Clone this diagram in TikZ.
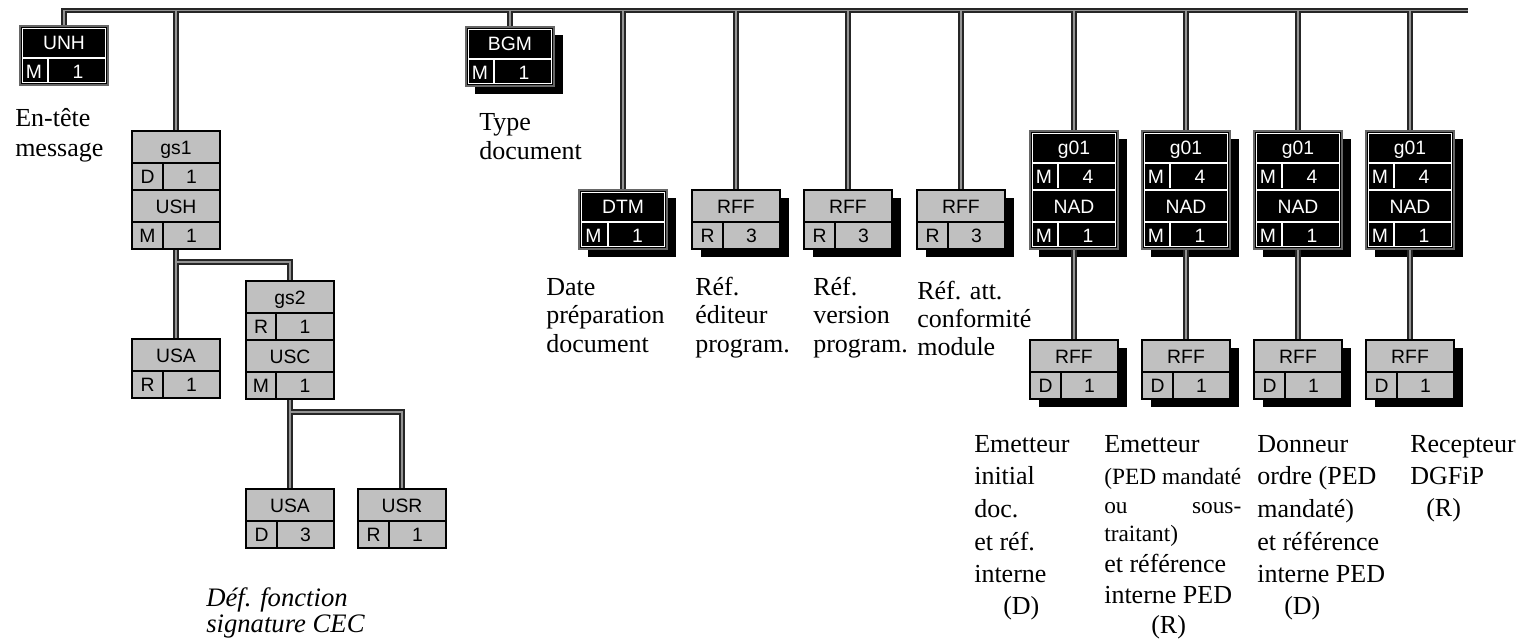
\documentclass[tikz,border=0pt]{standalone}
\usepackage{fontspec}
\setmainfont{Liberation Serif}
\newfontfamily\segfont{Liberation Sans}
\pgfdeclarelayer{bg}
\pgfsetlayers{bg,main}
\definecolor{segfill}{HTML}{C0C0C0}
\definecolor{wiredark}{HTML}{262626}
\definecolor{wirelight}{HTML}{949494}
\tikzset{
  wireout/.style={draw=wiredark, line width=4.1pt, line cap=butt, line join=miter},
  wirein/.style={draw=wirelight, line width=1.1pt, line cap=butt, line join=miter},
  segbox/.style={rectangle, inner sep=0pt, outer sep=0pt, minimum width=66pt, anchor=north west},
  framegry/.style={draw=black, fill=segfill, line width=0.9pt},
  frameblk/.style={draw=black!60, fill=black, line width=0.9pt},
  innergry/.style={draw=none},
  innerblk/.style={draw=white, line width=0.8pt},
  sepgry/.style={draw=black, line width=0.9pt},
  sepblk/.style={draw=white, line width=0.8pt},
  txtgry/.style={anchor=base, inner sep=0pt, text=black, font=\segfont\fontsize{14.5}{16}\selectfont},
  txtblk/.style={txtgry, text=white},
  segshade/.style={fill=black},
  noshade/.style={},
  captxt/.style={anchor=base west, inner sep=0pt, font=\fontsize{19.5}{22}\selectfont},
}
\def\insetgry{0}
\def\insetblk{2.5}
% #1 name, #2 kind, #3 x, #4 y, #5 height, #6 shade style
\newcommand\segframe[6]{%
  \begin{pgfonlayer}{bg}
    \path[#6] ({#3+9},{#4+8}) rectangle ++(88,#5);
  \end{pgfonlayer}
  \node[segbox, frame#2, minimum height={#5*0.75pt}] (#1) at (#3,#4) {};
  \path[inner#2] ({#3+2.5},{#4+2.5}) rectangle ({#3+85.5},{#4+#5-2.5});
}
% #1 name, #2 kind, #3 x, #4 y, #5 label, #6 status, #7 rep, #8 cell width
\newcommand\segpair[8]{%
  \edef\segins{\csname inset#2\endcsname}%
  \node[txt#2] (#1-l) at ({#3+44},{#4+23}) {#5};
  \draw[sep#2] ({#3+\segins},{#4+32}) -- ({#3+88-\segins},{#4+32});
  \draw[sep#2] ({#3+#8},{#4+32}) -- ({#3+#8},{#4+59-\segins});
  \node[txt#2] (#1-s) at ({#3+#8/2},{#4+52.5}) {#6};
  \node[txt#2] (#1-r) at ({#3+44+#8/2},{#4+52.5}) {#7};
}
% #1 kind, #2 x, #3 y
\newcommand\segmid[3]{%
  \edef\segins{\csname inset#1\endcsname}%
  \draw[sep#1] ({#2+\segins},{#3}) -- ({#2+88-\segins},{#3});
}
\newcommand\capl[1]{\hbox{\smash{#1}}}
\newcommand\segwires[1]{%
  \draw[#1] (unh.north) |- (busR);
  \foreach \n in {gs1,bgm,dtm,rffa,rffb,rffc,ga,gb,gc,gd}{\draw[#1] (\n.north |- busR) -- (\n.north);}
  \draw[#1] (gs1.south) -- (usa.north);
  \draw[#1] (gs1.south |- jA) -| (gs2.north);
  \draw[#1] (gs2.south) -- (usab.north);
  \draw[#1] (gs2.south |- jB) -| (usr.north);
  \foreach \a/\b in {ga/ra,gb/rb,gc/rc,gd/rd}{\draw[#1] (\a.south) -- (\b.north);}
}
\begin{document}
\begin{tikzpicture}[x=0.75pt,y=-0.75pt]
\useasboundingbox (0,0) rectangle (1526,640);
\begin{pgfonlayer}{bg}
  \fill[white] (0,0) rectangle (1526,640);
\end{pgfonlayer}
\coordinate (busR) at (1468,10.5);
\coordinate (jA) at (0,262);
\coordinate (jB) at (0,412);

% top-level segments
\segframe{unh}{blk}{20}{26}{59}{noshade}
\segpair{unh}{blk}{20}{26}{UNH}{M}{1}{28}
\segframe{bgm}{blk}{466}{27}{59}{segshade}
\segpair{bgm}{blk}{466}{27}{BGM}{M}{1}{28}

% signature group
\segframe{gs1}{gry}{132}{131}{118}{noshade}
\segpair{gs1a}{gry}{132}{131}{gs1}{D}{1}{31}
\segmid{gry}{132}{190}
\segpair{gs1b}{gry}{132}{190}{USH}{M}{1}{31}
\segframe{usa}{gry}{132}{339}{59}{noshade}
\segpair{usa}{gry}{132}{339}{USA}{R}{1}{31}
\segframe{gs2}{gry}{246}{281}{118}{noshade}
\segpair{gs2a}{gry}{246}{281}{gs2}{R}{1}{30}
\segmid{gry}{246}{340}
\segpair{gs2b}{gry}{246}{340}{USC}{M}{1}{30}
\segframe{usab}{gry}{246}{489}{59}{noshade}
\segpair{usab}{gry}{246}{489}{USA}{D}{3}{31}
\segframe{usr}{gry}{358}{489}{59}{noshade}
\segpair{usr}{gry}{358}{489}{USR}{R}{1}{31}

% DTM / RFF
\segframe{dtm}{blk}{579}{190}{59}{segshade}
\segpair{dtm}{blk}{579}{190}{DTM}{M}{1}{29}
\segframe{rffa}{gry}{692}{190}{59}{segshade}
\segpair{rffa}{gry}{692}{190}{RFF}{R}{3}{31}
\segframe{rffb}{gry}{804}{190}{59}{segshade}
\segpair{rffb}{gry}{804}{190}{RFF}{R}{3}{31}
\segframe{rffc}{gry}{917}{190}{59}{segshade}
\segpair{rffc}{gry}{917}{190}{RFF}{R}{3}{31}

% g01 groups
\foreach \g/\r/\x in {ga/ra/1030,gb/rb/1142,gc/rc/1254,gd/rd/1366}{
  \segframe{\g}{blk}{\x}{131}{118}{segshade}
  \segpair{\g a}{blk}{\x}{131}{g01}{M}{4}{28}
  \segmid{blk}{\x}{190}
  \segpair{\g b}{blk}{\x}{190}{NAD}{M}{1}{28}
  \segframe{\r}{gry}{\x}{340}{59}{segshade}
  \segpair{\r}{gry}{\x}{340}{RFF}{D}{1}{31}
}

% connectors (double lines)
\begin{pgfonlayer}{bg}
  \segwires{wireout}
  \segwires{wirein}
\end{pgfonlayer}

% captions
\node[captxt] (cap-unh) at (15,126) {\vtop{\offinterlineskip\capl{En-tête}\kern22.5pt\capl{message}}};
\node[captxt] (cap-bgm) at (479,130) {\vtop{\offinterlineskip\capl{Type}\kern21.75pt\capl{document}}};
\node[captxt] (cap-dtm) at (546,295) {\vtop{\offinterlineskip\capl{Date}\kern21.2pt\capl{préparation}\kern21.6pt\capl{document}}};
\node[captxt] (cap-rffa) at (695,295) {\vtop{\offinterlineskip\capl{Réf.}\kern21.2pt\capl{éditeur}\kern21.6pt\capl{program.}}};
\node[captxt] (cap-rffb) at (813,295) {\vtop{\offinterlineskip\capl{Réf.}\kern21.2pt\capl{version}\kern21.6pt\capl{program.}}};
\node[captxt] (cap-rffc) at (917,299) {\vtop{\offinterlineskip\capl{Réf. att.}\kern21pt\capl{conformité}\kern21pt\capl{module}}};
\node[captxt, font=\fontsize{20}{22}\selectfont\itshape] (cap-sig) at (206,606) {\vtop{\offinterlineskip\capl{Déf. fonction}\kern19.5pt\capl{signature CEC}}};
\node[captxt] (cap-ra) at (974,452) {\vtop{\offinterlineskip\capl{Emetteur}\kern24.5pt\capl{initial}\kern24.5pt\capl{doc.}\kern24.5pt\capl{et réf.}\kern24.5pt\capl{interne}\kern24pt\capl{\hspace*{21.75pt}(D)}}};
\node[captxt] (cap-rb) at (1104,452) {\vtop{\offinterlineskip\capl{Emetteur}\kern24pt
  \capl{\fontsize{17.5}{19}\selectfont\hbox to 102.75pt{(PED\hfill mandaté}}\kern21.75pt
  \capl{\fontsize{17.5}{19}\selectfont\hbox to 102.75pt{ou\hfill sous-}}\kern21pt
  \capl{\fontsize{17.5}{19}\selectfont traitant)}\kern23.25pt
  \capl{et référence}\kern23.25pt\capl{interne PED}\kern22.5pt\capl{\hspace*{35.25pt}(R)}}};
\node[captxt] (cap-rc) at (1257,452) {\vtop{\offinterlineskip\capl{Donneur}\kern24.5pt\capl{ordre (PED}\kern24.5pt\capl{mandaté)}\kern24.5pt\capl{et référence}\kern24.5pt\capl{interne PED}\kern24pt\capl{\hspace*{20.25pt}(D)}}};
\node[captxt] (cap-rd) at (1410,452) {\vtop{\offinterlineskip\capl{Recepteur}\kern24.5pt\capl{DGFiP}\kern24pt\capl{\hspace*{12pt}(R)}}};
\end{tikzpicture}
\end{document}
